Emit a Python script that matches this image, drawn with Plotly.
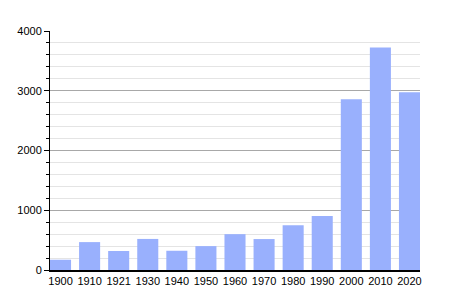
import plotly.graph_objects as go

years = ["1900", "1910", "1921", "1930", "1940", "1950", "1960", "1970", "1980", "1990", "2000", "2010", "2020"]
population = [172, 467, 318, 520, 322, 400, 600, 518, 750, 902, 2856, 3724, 2975]

fig = go.Figure(go.Bar(x=years, y=population, marker=dict(color="#99b0fd", line=dict(width=0))))

gap = 0.276
fig.update_layout(
    width=450, height=300,
    margin=dict(l=50, r=30, t=31, b=30),
    paper_bgcolor="white", plot_bgcolor="white",
    bargap=gap,
    showlegend=False,
    font=dict(family="Liberation Sans, Arial, sans-serif", size=11, color="black"),
)
fig.update_xaxes(
    type="category", showline=True, linecolor="black", linewidth=1.5,
    range=[-0.5 + gap / 2, len(years) - 0.5 - gap / 2],
    ticks="", showgrid=False, tickfont=dict(size=11),
)
fig.update_yaxes(
    range=[0, 4000], dtick=1000, showline=True, linecolor="black", linewidth=1,
    ticks="outside", ticklen=5, tickcolor="black", tickwidth=1,
    showgrid=True, gridcolor="#a8a8a8", gridwidth=1, zeroline=False,
    minor=dict(dtick=200, showgrid=True, gridcolor="#e4e4e4", ticks="outside", ticklen=3, tickcolor="black"),
    tickfont=dict(size=11),
)
fig.write_html("out.html")
